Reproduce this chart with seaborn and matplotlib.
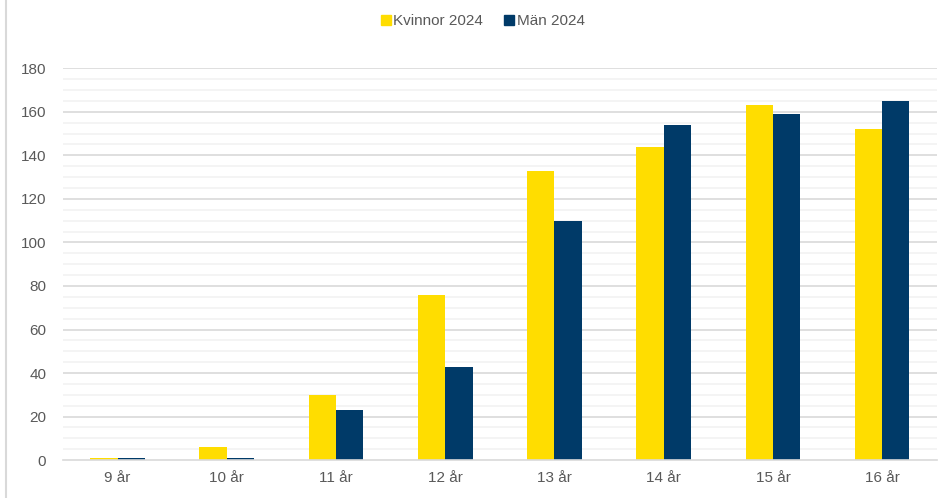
import pandas as pd
import matplotlib.pyplot as plt
import matplotlib.lines as mlines
import seaborn as sns
import numpy as np

# data
ages = ['9 år', '10 år', '11 år', '12 år', '13 år', '14 år', '15 år', '16 år']
kvinnor = [1, 6, 30, 76, 133, 144, 163, 152]
man = [1, 1, 23, 43, 110, 154, 159, 165]
series = ['Kvinnor 2024', 'Män 2024']
colors = ['#FFDD00', '#003A68']

df = pd.DataFrame({'age': ages * 2,
                   'value': kvinnor + man,
                   'series': [series[0]] * len(ages) + [series[1]] * len(ages)})

sns.set_style('white')
plt.rcParams['font.family'] = ['Liberation Sans', 'DejaVu Sans']

fig = plt.figure(figsize=(9.53, 4.98), dpi=100)
ax = fig.add_axes([0.066, 0.076, 0.917, 0.787])

# gridlines: minor every 5, major every 20
for v in np.arange(5, 181, 5):
    if v % 20 == 0:
        ax.axhline(v, color='#d9d9d9', lw=1.2, zorder=0)
    else:
        ax.axhline(v, color='#f2f2f2', lw=1.2, zorder=0)

sns.barplot(data=df, x='age', y='value', hue='series', palette=colors,
            width=0.5, gap=0, ax=ax, legend=False, saturation=1, zorder=2,
            linewidth=0, edgecolor='none')

ax.set_ylim(0, 180)
ax.set_xlim(-0.5, len(ages) - 0.5)
ax.set_yticks(np.arange(0, 181, 20))
ax.set_xlabel('')
ax.set_ylabel('')
ax.tick_params(axis='both', length=0, labelsize=11, labelcolor='#595959')
ax.tick_params(axis='y', pad=12)
ax.tick_params(axis='x', pad=8)
for s in ['top', 'right', 'left']:
    ax.spines[s].set_visible(False)
ax.spines['bottom'].set_color('#d9d9d9')
ax.spines['bottom'].set_linewidth(1.2)

handles = [mlines.Line2D([], [], marker='s', ls='', color=c, markersize=7) for c in colors]
fig.legend(handles, series, loc='center', bbox_to_anchor=(0.505, 0.957), ncol=2,
           frameon=False, fontsize=11, handletextpad=0.0, columnspacing=1.2,
           labelcolor='#595959', handlelength=1.0)

# thin border at the left edge of the image
fig.add_artist(mlines.Line2D([0.006, 0.006], [0, 1], color='#d9d9d9', lw=1.5,
                             transform=fig.transFigure))

fig.savefig('out.png', dpi=100)
